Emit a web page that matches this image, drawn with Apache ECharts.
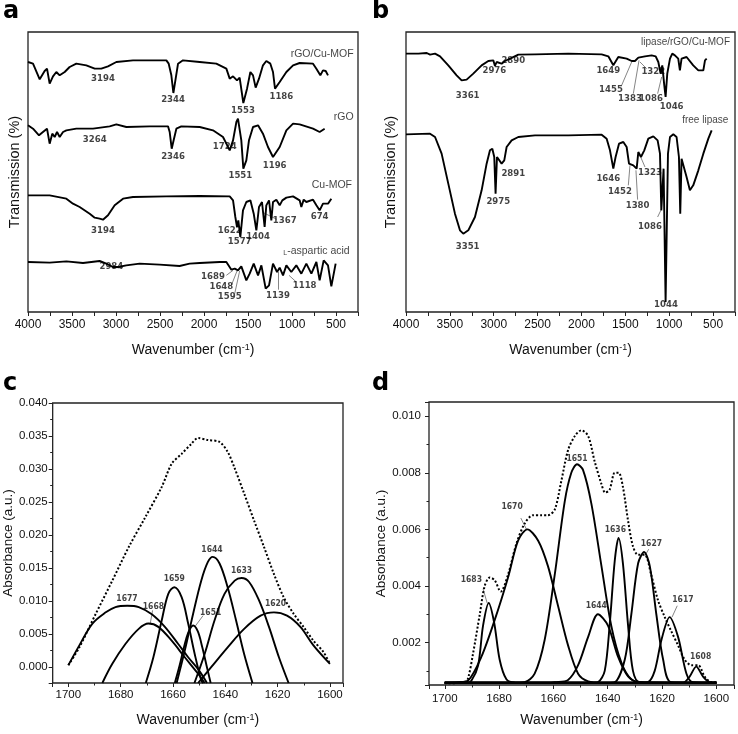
<!DOCTYPE html>
<html>
<head>
<meta charset="utf-8">
<script src="https://cdn.jsdelivr.net/npm/echarts@6/dist/echarts.min.js"></script>
<style>html,body{margin:0;padding:0;background:#fff;}#c{width:738px;height:734px;}</style>
</head>
<body>
<div id="c"></div>
<script>
// ---------- Panel a: FTIR spectra (wavenumber, transmission in arbitrary units) ----------
const rgoCuMof = [[4000,750],[3943,745],[3867,698],[3811,723],[3784,730],[3754,685],[3716,707],[3678,720],[3640,710],[3583,720],[3527,735],[3451,745],[3337,740],[3242,730],[3167,730],[3091,737],[2996,750],[2807,755],[2617,755],[2428,755],[2401,745],[2371,710],[2348,657],[2322,700],[2295,745],[2239,755],[2049,750],[1860,745],[1746,730],[1708,700],[1670,707],[1625,695],[1595,703],[1553,627],[1511,670],[1473,720],[1443,710],[1413,673],[1375,700],[1330,740],[1292,753],[1246,745],[1216,720],[1193,670],[1140,690],[1064,720],[988,740],[913,747],[761,745],[723,730],[678,710],[648,725],[617,723],[591,710]];
const rgo = [[4000,560],[3943,550],[3875,530],[3830,540],[3784,550],[3754,505],[3724,535],[3697,525],[3670,540],[3640,525],[3602,540],[3564,545],[3451,550],[3261,550],[3072,557],[2996,563],[2883,555],[2617,557],[2409,557],[2390,540],[2367,490],[2345,515],[2314,550],[2258,557],[2049,555],[1898,545],[1784,525],[1746,505],[1708,485],[1670,515],[1632,570],[1614,580],[1595,575],[1576,515],[1553,430],[1519,455],[1489,515],[1443,555],[1386,560],[1330,535],[1273,495],[1216,465],[1197,463],[1140,495],[1064,545],[988,565],[913,563],[761,550],[686,540],[629,550]];
const cuMof = [[4000,350],[3754,350],[3564,340],[3489,325],[3413,315],[3299,295],[3242,283],[3186,280],[3148,277],[3091,290],[3015,320],[2920,340],[2807,345],[2428,347],[2049,348],[1708,347],[1670,335],[1644,285],[1625,255],[1610,275],[1587,225],[1557,305],[1519,330],[1473,335],[1435,295],[1405,245],[1375,315],[1341,330],[1311,255],[1292,320],[1261,335],[1235,275],[1216,330],[1178,337],[1140,320],[1110,335],[1064,343],[988,347],[913,335],[894,315],[867,337],[837,330],[761,337],[723,320],[686,305],[648,325],[591,325],[553,340]];
const aspartic = [[4000,150],[3754,148],[3564,152],[3375,147],[3186,153],[3110,145],[3034,135],[2977,135],[2883,140],[2731,145],[2504,142],[2277,138],[2163,145],[2049,147],[1822,150],[1746,150],[1689,127],[1651,130],[1614,125],[1576,137],[1519,95],[1481,115],[1435,145],[1386,110],[1348,140],[1299,70],[1261,80],[1216,145],[1170,120],[1140,133],[1102,110],[1064,140],[1008,120],[951,140],[894,115],[837,145],[780,115],[723,150],[686,95],[640,155],[591,140],[553,77],[504,145]];
const labelsA = [[299,775,'rGO/Cu-MOF','right','n'],[3148,700,'3194'],[2352,637,'2344'],[1557,605,'1553'],[1121,645,'1186'],
  [299,585,'rGO','right','n'],[3242,517,'3264'],[2352,465,'2346'],[1765,497,'1724'],[1587,410,'1551'],[1197,440,'1196'],
  [318,380,'Cu-MOF','right','n'],[3148,245,'3194'],[1708,245,'1622'],[1595,210,'1577'],[1386,225,'1404'],[1083,273,'1367'],[686,285,'674'],
  [345,183,'{s|L}-aspartic acid','right','n'],[3053,135,'2984'],[1898,107,'1689'],[1803,75,'1648'],[1708,45,'1595'],[1159,50,'1139'],[856,80,'1118']];
const leadersA = [[[1746,110],[1670,125]],[[1689,80],[1625,123]],[[1651,55],[1595,123]],[[1159,67],[1159,120]],[[951,90],[1034,110]],[[1333,299],[1174,278]]];

// ---------- Panel b ----------
const lipaseRgoCuMof = [[4000,775],[3859,775],[3764,777],[3726,772],[3669,775],[3612,767],[3518,740],[3423,710],[3366,695],[3309,697],[3233,715],[3138,740],[3062,753],[3005,755],[2986,738],[2967,750],[2910,745],[2872,753],[2720,772],[2530,773],[2150,775],[1770,773],[1694,767],[1637,740],[1580,765],[1485,760],[1428,753],[1390,753],[1352,763],[1276,767],[1200,770],[1154,767],[1124,750],[1098,715],[1079,740],[1056,680],[1041,645],[1022,715],[991,760],[965,775],[935,770],[897,760],[878,725],[859,760],[802,765],[726,740],[668,725],[611,725],[592,755],[573,760]];
const freeLipase = [[4000,533],[3726,535],[3669,525],[3594,475],[3518,385],[3442,295],[3385,245],[3347,235],[3290,245],[3214,285],[3138,365],[3081,445],[3043,485],[3016,490],[2994,465],[2979,355],[2963,465],[2941,460],[2910,445],[2880,455],[2853,495],[2796,515],[2720,525],[2530,530],[2150,530],[1770,532],[1713,520],[1675,485],[1637,430],[1611,465],[1572,505],[1523,510],[1485,495],[1458,445],[1409,440],[1371,430],[1352,480],[1322,465],[1284,485],[1238,520],[1181,527],[1132,515],[1105,475],[1090,305],[1075,305],[1064,430],[1052,430],[1041,30],[1029,30],[1014,475],[991,525],[953,533],[916,525],[889,465],[874,295],[859,460],[840,455],[802,405],[764,365],[726,380],[668,425],[611,475],[554,520],[516,545]];
const labelsB = [[307,810,'lipase/rGO/Cu-MOF','right','n'],[3297,650,'3361'],[2993,723,'2976'],[2777,755,'2890'],[1694,725,'1649'],[1664,667,'1455'],[1447,640,'1383'],[1181,720,'1322'],[1208,640,'1086'],[972,617,'1046'],
  [326,575,'free lipase','right','n'],[2777,415,'2891'],[2948,330,'2975'],[3297,197,'3351'],[1694,400,'1646'],[1561,360,'1452'],[1360,320,'1380'],[1219,418,'1323'],[1219,255,'1086'],[1037,23,'1044']];
const leadersB = [[[1542,680],[1428,750]],[[1409,655],[1344,755]],[[1257,730],[1333,750]],[[1132,655],[1086,705]],[[1466,380],[1447,440]],[[1360,337],[1379,425]],[[1276,435],[1322,463]],[[1132,285],[1086,310]]];

// ---------- Panel c: amide I deconvolution ----------
const cEnvelope = [[1700,0.0003],[1695.8,0.0030],[1689.5,0.0081],[1683.2,0.0131],[1676.9,0.0182],[1670.6,0.0227],[1664.3,0.0273],[1660.5,0.0308],[1656.7,0.0323],[1653.0,0.0338],[1650.4,0.0347],[1646.7,0.0344],[1642.2,0.0341],[1639.1,0.0326],[1636.6,0.0303],[1632.8,0.0263],[1629.0,0.0222],[1625.2,0.0182],[1621.4,0.0141],[1617.7,0.0106],[1613.9,0.0081],[1610.1,0.0061],[1606.3,0.0040],[1602.5,0.0023],[1600,0.0005]];
const c1677 = [[1700,0.0003],[1695.8,0.0033],[1690.8,0.0066],[1685.7,0.0083],[1682.0,0.0091],[1677.5,0.0093],[1673.1,0.0091],[1668.1,0.0080],[1663.1,0.0061],[1658.0,0.0035],[1654.2,0.0015],[1650.4,-0.0003],[1647,-0.0024]];
const c1668 = [[1687.0,-0.0024],[1683.2,0.0005],[1678.2,0.0035],[1673.1,0.0058],[1669.4,0.0066],[1665.6,0.0061],[1660.5,0.0040],[1655.5,0.0015],[1650.4,-0.0010],[1647.9,-0.0024]];
const c1659 = [[1670.4,-0.0024],[1667.5,0.0015],[1664.3,0.0071],[1661.8,0.0111],[1659.5,0.0121],[1656.7,0.0106],[1654.2,0.0066],[1651.7,0.0020],[1649.2,-0.0020],[1648.5,-0.0024]];
const c1651 = [[1659.3,-0.0024],[1657.5,0.0002],[1655.8,0.0030],[1654.2,0.0052],[1652.3,0.0063],[1650.5,0.0054],[1648.8,0.0030],[1647.2,0.0003],[1645.6,-0.0024]];
const c1644 = [[1658.6,-0.0024],[1655.5,0.0025],[1652.3,0.0081],[1649.2,0.0131],[1646.7,0.0159],[1644.8,0.0167],[1642.2,0.0157],[1639.1,0.0121],[1635.9,0.0071],[1632.8,0.0020],[1629.6,-0.0024]];
const c1633 = [[1651.8,-0.0024],[1647.9,0.0020],[1644.1,0.0071],[1640.3,0.0111],[1636.4,0.0131],[1633.8,0.0135],[1630.9,0.0129],[1627.1,0.0101],[1623.3,0.0061],[1619.5,0.0015],[1615.8,-0.0024]];
const c1620 = [[1650.4,-0.0024],[1645.4,0.0000],[1639.1,0.0030],[1632.8,0.0058],[1626.5,0.0078],[1621.4,0.0083],[1616.4,0.0078],[1611.3,0.0061],[1606.3,0.0033],[1600,0.0005]];
const labelsC = [[1677.6,0.0104,'1677'],[1667.5,0.0092,'1668'],[1659.5,0.0134,'1659'],[1645.6,0.0082,'1651'],[1645.1,0.0178,'1644'],[1633.8,0.0146,'1633'],[1620.8,0.0096,'1620']];
const leadersC = [[[1667.8,0.0086],[1668.7,0.0066]],[[1648.5,0.0078],[1651.7,0.0061]]];

// ---------- Panel d ----------
const dEnvelope = [[1700,0.00056],[1692.6,0.00059],[1691.4,0.00074],[1689.6,0.0016],[1687.1,0.0030],[1685.3,0.0040],[1683.4,0.0043],[1681.6,0.0042],[1679.4,0.0038],[1676.7,0.0044],[1673.6,0.0055],[1670.6,0.0062],[1667.5,0.0065],[1664.4,0.0065],[1662.0,0.0065],[1659.5,0.0067],[1657.1,0.0077],[1654.6,0.0088],[1652.1,0.0093],[1649.7,0.0095],[1647.2,0.0093],[1644.8,0.0084],[1642.3,0.0076],[1640.9,0.0073],[1639.3,0.0074],[1637.4,0.0080],[1636.0,0.0080],[1634.4,0.0075],[1632.5,0.0063],[1630.7,0.0054],[1628.8,0.0051],[1626.4,0.0051],[1624.0,0.0044],[1621.5,0.0035],[1619.0,0.0029],[1616.6,0.0024],[1614.1,0.0019],[1611.7,0.0014],[1609.2,0.0012],[1606.7,0.0012],[1604.3,0.0008],[1601.8,0.0006],[1600,0.0006]];
const d1683 = [[1700,0.00058],[1692,0.00058],[1690.2,0.00065],[1687.7,0.0012],[1685.9,0.0026],[1683.8,0.0034],[1681.8,0.0027],[1679.8,0.0014],[1677.3,0.0007],[1674.2,0.00059],[1600,0.00058]];
const d1670 = [[1700,0.00058],[1695,0.0006],[1691.4,0.00066],[1686.5,0.0015],[1681.6,0.0028],[1676.7,0.0043],[1673.0,0.0056],[1669.6,0.0060],[1665.6,0.0056],[1662.0,0.0047],[1658.3,0.0033],[1654.6,0.0019],[1650.9,0.0009],[1647.2,0.00063],[1642,0.00058],[1600,0.00058]];
const d1651 = [[1700,0.00058],[1675,0.00058],[1670.6,0.0006],[1666.9,0.0009],[1663.2,0.0021],[1659.5,0.0044],[1655.8,0.0070],[1653.4,0.0080],[1651.3,0.0083],[1649.1,0.0081],[1646.0,0.0069],[1642.3,0.0047],[1638.7,0.0026],[1635.0,0.0013],[1631.3,0.0007],[1626.4,0.00058],[1600,0.00058]];
const d1644 = [[1700,0.00058],[1662,0.00058],[1659.5,0.0006],[1654.6,0.00068],[1650.9,0.0012],[1647.2,0.0022],[1643.6,0.0030],[1639.9,0.0026],[1636.2,0.0015],[1632.5,0.0008],[1628.8,0.0006],[1600,0.00058]];
const d1636 = [[1700,0.00058],[1646,0.00058],[1643.6,0.0006],[1641.1,0.0010],[1639.3,0.0026],[1637.4,0.0049],[1636.0,0.0057],[1634.4,0.0048],[1632.5,0.0026],[1630.7,0.0010],[1628.2,0.0006],[1600,0.00058]];
const d1627 = [[1700,0.00058],[1640,0.00058],[1637.4,0.0006],[1633.7,0.0014],[1631.3,0.0030],[1628.8,0.0048],[1626.6,0.0052],[1624.5,0.0047],[1622.1,0.0030],[1619.6,0.0014],[1616.6,0.0006],[1600,0.00058]];
const d1617 = [[1700,0.00058],[1628,0.00058],[1625.2,0.0006],[1622.7,0.0010],[1620.2,0.0021],[1617.2,0.0029],[1614.1,0.0022],[1611.0,0.0009],[1608.6,0.0006],[1600,0.00058]];
const d1608 = [[1700,0.00058],[1613,0.00058],[1611.7,0.0006],[1609.8,0.0008],[1607.4,0.00115],[1604.9,0.0008],[1602.5,0.0006],[1600,0.00058]];
const labelsD = [[1690.2,0.0042,'1683'],[1675.2,0.0068,'1670'],[1651.3,0.0085,'1651'],[1644.2,0.0033,'1644'],[1637.2,0.0060,'1636'],[1623.9,0.0055,'1627'],[1612.3,0.0035,'1617'],[1605.8,0.0015,'1608']];
const leadersD = [[[1685.9,0.0039],[1684.4,0.0034]],[[1672.0,0.0064],[1669.9,0.0060]],[[1624.9,0.0053],[1626.1,0.0051]],[[1614.4,0.0033],[1616.3,0.0029]]];

// ---------- build chart ----------
const FONT = '"Liberation Sans", Arial, sans-serif';
const NARROW = '"Liberation Sans Narrow", "DejaVu Sans Condensed", "Liberation Sans", sans-serif';
const INK = '#111';
const series = [];

function curve(g, data, opt) {
  opt = opt || {};
  series.push({type:'line', xAxisIndex:g, yAxisIndex:g, data:data, symbol:'none', showSymbol:false,
    smooth: opt.smooth || false, clip:true, silent:true, animation:false,
    lineStyle:{color:'#000', width: opt.width || 1.9, type: opt.type || 'solid'}});
}
function labels(g, arr, fs, nameFs) {
  series.push({type:'scatter', xAxisIndex:g, yAxisIndex:g, symbol:'circle', symbolSize:1, silent:true, animation:false,
    itemStyle:{color:'rgba(0,0,0,0)'},
    data: arr.map(function(r){
      const isName = r[4] === 'n';
      return {value:[r[0], r[1]], label:{formatter:r[2], align:r[3]||'center',
        fontSize: isName ? nameFs : fs, fontWeight: isName ? 'normal' : 'bold',
        fontFamily: isName ? FONT : NARROW}};
    }),
    label:{show:true, position:'inside', color:INK,
      rich:{s:{fontSize:7, verticalAlign:'bottom', fontFamily:FONT, color:INK}}}
  });
}
function leaders(g, arr) {
  series.push({type:'lines', coordinateSystem:'cartesian2d', xAxisIndex:g, yAxisIndex:g, silent:true, animation:false,
    data: arr.map(function(c){ return {coords:c}; }),
    lineStyle:{color:'#666', width:0.8, opacity:1}});
}

curve(0, rgoCuMof); curve(0, rgo); curve(0, cuMof); curve(0, aspartic);
labels(0, labelsA, 9.5, 10.5); leaders(0, leadersA);
curve(1, lipaseRgoCuMof); curve(1, freeLipase);
labels(1, labelsB, 9.5, 10); leaders(1, leadersB);
curve(2, cEnvelope, {type:'dotted', width:2, smooth:0.3});
[c1677, c1668, c1659, c1651, c1644, c1633, c1620].forEach(function(d){ curve(2, d, {smooth:0.35, width:1.9}); });
labels(2, labelsC, 8.5, 8.5); leaders(2, leadersC);
curve(3, dEnvelope, {type:'dotted', width:2, smooth:0.3});
[d1683, d1670, d1651, d1644, d1636, d1627, d1617, d1608].forEach(function(d){ curve(3, d, {smooth:0.3, width:1.9}); });
labels(3, labelsD, 8.5, 8.5); leaders(3, leadersD);

const nameStyle = function(fs){ return {fontSize:fs, color:INK, fontFamily:FONT,
  rich:{sup:{fontSize:Math.round(fs*0.62), verticalAlign:'top', color:INK, fontFamily:FONT}}}; };
const tick = {show:true, inside:false, length:4, lineStyle:{color:'#222', width:1}};
const minor = {show:true, splitNumber:2, length:2.5, lineStyle:{color:'#222', width:1}};
function isMult(v, s){ return Math.abs(v/s - Math.round(v/s)) < 1e-6; }

function specX(g) {
  return {gridIndex:g, type:'value', inverse:true, min:250, max:4000, interval:250,
    axisLine:{show:false, onZero:false}, axisTick:tick, splitLine:{show:false},
    axisLabel:{margin:7, fontSize:12, color:INK, fontFamily:FONT, formatter:function(v){ return isMult(v,500) ? String(v) : ''; }},
    name:'Wavenumber (cm{sup|-1})', nameLocation:'middle', nameGap:31, nameTextStyle:nameStyle(14)};
}
function specY(g, gap) {
  return {gridIndex:g, type:'value', min:0, max:840, axisLine:{show:false, onZero:false}, axisTick:{show:false},
    axisLabel:{show:false}, splitLine:{show:false},
    name:'Transmission (%)', nameLocation:'middle', nameGap:gap, nameTextStyle:{fontSize:14.5, color:INK, fontFamily:FONT}};
}
function amideX(g, min, max, margin, gap) {
  return {gridIndex:g, type:'value', inverse:true, min:min, max:max, splitNumber:5,
    axisLine:{show:false, onZero:false}, axisTick:tick, minorTick:minor, splitLine:{show:false}, minorSplitLine:{show:false},
    axisLabel:{margin:margin, fontSize:11.5, color:INK, fontFamily:FONT, formatter:function(v){ return isMult(v,20) ? String(Math.round(v)) : ''; }},
    name:'Wavenumber (cm{sup|-1})', nameLocation:'middle', nameGap:gap, nameTextStyle:nameStyle(14)};
}
function amideY(g, min, max, split, step, margin, gap) {
  return {gridIndex:g, type:'value', min:min, max:max, splitNumber:split,
    axisLine:{show:false, onZero:false}, axisTick:tick, minorTick:minor, splitLine:{show:false}, minorSplitLine:{show:false},
    axisLabel:{margin:margin, fontSize:11.5, color:INK, fontFamily:FONT, formatter:function(v){ return isMult(v,step) ? v.toFixed(3) : ''; }},
    name:'Absorbance (a.u.)', nameLocation:'middle', nameGap:gap, nameTextStyle:{fontSize:13.5, color:INK, fontFamily:FONT}};
}

const gridBox = {show:true, borderColor:'#222', borderWidth:1.3, backgroundColor:'transparent', containLabel:false};
const letter = function(t, x, y){ return {type:'text', x:x, y:y, silent:true,
  style:{text:t, fill:'#000', font:'bold 24px "DejaVu Sans", sans-serif', verticalAlign:'bottom'}}; };

const option = {
  backgroundColor:'#fff',
  animation:false,
  grid:[
    Object.assign({left:28, top:32, width:330, height:280}, gridBox),
    Object.assign({left:406, top:32, width:329, height:280}, gridBox),
    Object.assign({left:50, top:403, width:293, height:280}, gridBox),
    Object.assign({left:429, top:402, width:305, height:283}, gridBox)
  ],
  xAxis:[specX(0), specX(1), amideX(2, 1595, 1706, 6, 30), amideX(3, 1593.5, 1705.8, 8, 28)],
  yAxis:[specY(0, 6), specY(1, 8), amideY(2, -0.0024, 0.040, 8, 0.005, 5, 34), amideY(3, 0.0005, 0.0105, 5, 0.002, 8, 36)],
  graphic:[letter('a', 3, 24), letter('b', 372, 24), letter('c', 3, 396), letter('d', 372, 396)],
  series:series
};

const chart = echarts.init(document.getElementById('c'), null, {renderer:'canvas'});
chart.setOption(option);
</script>
</body>
</html>
